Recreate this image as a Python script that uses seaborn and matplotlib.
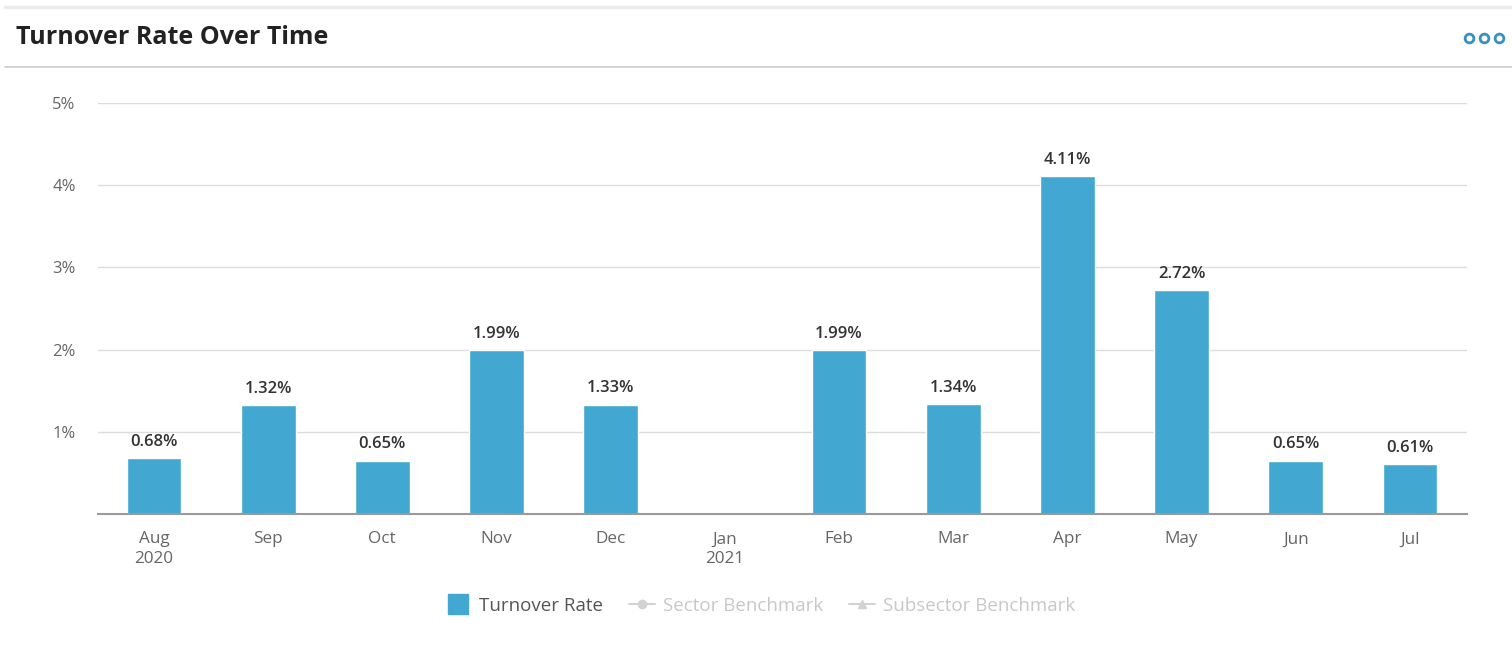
import numpy as np
import pandas as pd
import matplotlib
matplotlib.use("Agg")
import matplotlib.pyplot as plt
import seaborn as sns
from matplotlib.lines import Line2D

months = ["Aug\n2020", "Sep", "Oct", "Nov", "Dec", "Jan\n2021", "Feb", "Mar", "Apr", "May", "Jun", "Jul"]
turnover = [0.68, 1.32, 0.65, 1.99, 1.33, np.nan, 1.99, 1.34, 4.11, 2.72, 0.65, 0.61]
y_ticks = [1, 2, 3, 4, 5]
y_tick_labels = ["1%", "2%", "3%", "4%", "5%"]
title = "Turnover Rate Over Time"
legend_labels = ["Turnover Rate", "Sector Benchmark", "Subsector Benchmark"]

BAR = "#42A8D1"
sns.set_theme(style="white")
plt.rcParams["font.family"] = ["Open Sans", "DejaVu Sans"]

df = pd.DataFrame({"month": months, "rate": turnover})

W, H = 1512, 669
fig = plt.figure(figsize=(W / 100, H / 100), dpi=100)
ax = fig.add_axes([98 / W, 1 - 514 / H, (1467 - 98) / W, (514 - 103) / H])

sns.barplot(data=df, x="month", y="rate", color=BAR, width=0.48, ax=ax,
            saturation=1, order=months)

ax.set_ylim(0, 5)
ax.set_xlim(-0.49, len(months) - 0.5)
ax.set_yticks(y_ticks)
ax.set_yticklabels(y_tick_labels)
ax.grid(axis="y", color="#dcdcdc", linewidth=1)
ax.set_axisbelow(True)
for s in ["top", "right", "left"]:
    ax.spines[s].set_visible(False)
ax.spines["bottom"].set_color("#9a9a9a")
ax.spines["bottom"].set_linewidth(1.5)
ax.tick_params(axis="y", length=0, pad=16, labelsize=12, labelcolor="#666666")
ax.tick_params(axis="x", length=0, pad=12.5, labelsize=12.3, labelcolor="#666666")
for lbl in ax.get_xticklabels():
    lbl.set_linespacing(1.3)
ax.set_xlabel("")
ax.set_ylabel("")

for i, v in enumerate(turnover):
    if not np.isnan(v):
        ax.annotate(f"{v:.2f}%", (i, v), xytext=(0, 6), textcoords="offset points",
                    ha="center", va="bottom", fontsize=12, color="#333333",
                    fontweight="semibold")

# header
fig.text(16 / W, 1 - 37 / H, title, fontsize=18, fontweight="bold",
         color="#222222", va="center", ha="left")
fig.add_artist(Line2D([5 / W, 1], [1 - 67 / H] * 2, color="#cccccc", linewidth=1.2,
                      transform=fig.transFigure))
fig.add_artist(Line2D([5 / W, 1], [1 - 7 / H] * 2, color="#ececec", linewidth=2.5,
                      transform=fig.transFigure))
fig.add_artist(Line2D([1469 / W, 1484 / W, 1499 / W], [1 - 38 / H] * 3, linestyle="none",
                      marker="o", markersize=6.3, markerfacecolor="white",
                      markeredgecolor="#3a8fc2", markeredgewidth=2,
                      transform=fig.transFigure))

# legend
handles = [
    Line2D([], [], marker="s", linestyle="none", markersize=14, color=BAR),
    Line2D([], [], marker="o", linestyle="-", markersize=6, color="#d2d2d2", linewidth=1.5),
    Line2D([], [], marker="^", linestyle="-", markersize=6, color="#d2d2d2", linewidth=1.5),
]
leg = fig.legend(handles, legend_labels, loc="center", bbox_to_anchor=(760 / W, 1 - 606 / H),
                 ncol=3, frameon=False, fontsize=13.5, handlelength=1.4,
                 handletextpad=0.4, columnspacing=1.4)
for t, c in zip(leg.get_texts(), ["#555555", "#c8c8c8", "#c8c8c8"]):
    t.set_color(c)

fig.savefig("out.png", dpi=100, facecolor="white")
